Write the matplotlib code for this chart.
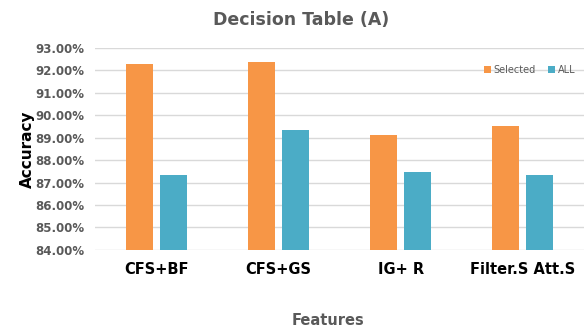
import numpy as np
import matplotlib.pyplot as plt
from matplotlib.ticker import FuncFormatter

features = ['CFS+BF', 'CFS+GS', 'IG+ R', 'Filter.S Att.S']
selected = [92.29, 92.38, 89.13, 89.53]
all_feats = [87.34, 89.33, 87.48, 87.35]

plt.rcParams['font.family'] = ['DejaVu Sans']

fig = plt.figure(figsize=(5.85, 3.28), dpi=100)
ax = fig.add_axes([0.163, 0.238, 0.835, 0.616])

x = np.arange(len(features))
w = 0.22
ax.bar(x - 0.14, np.array(selected) - 84, w, bottom=84, color='#F79646', label='Selected', zorder=3)
ax.bar(x + 0.14, np.array(all_feats) - 84, w, bottom=84, color='#4BACC6', label='ALL', zorder=3)

ax.set_ylim(84, 93)
ax.set_yticks(np.arange(84, 93.1, 1))
ax.yaxis.set_major_formatter(FuncFormatter(lambda v, _: f'{v:.2f}%'))
ax.set_xlim(-0.5, len(features) - 0.5)
ax.set_xticks(x)
ax.set_xticklabels(features, fontsize=10.5, fontweight='bold', color='black')
ax.tick_params(axis='x', length=0, pad=9)
ax.tick_params(axis='y', length=0, labelsize=8.5, labelcolor='#595959', pad=8)
for lbl in ax.get_yticklabels():
    lbl.set_fontweight('bold')

ax.grid(axis='y', color='#D9D9D9', linewidth=1, zorder=0)
for s in ax.spines.values():
    s.set_visible(False)

ax.set_ylabel('Accuracy', fontsize=11, fontweight='bold', color='black', labelpad=0)
fig.text(0.56, 0.01, 'Features', ha='center', fontsize=10.5, fontweight='bold', color='#595959')
fig.text(0.515, 0.925, 'Decision Table (A)', ha='center', fontsize=12.5, fontweight='bold', color='#595959')

ax.legend(loc='upper right', bbox_to_anchor=(1.0, 0.96), ncol=2, frameon=False,
          fontsize=7, labelcolor='#595959', handlelength=0.7, handleheight=0.7,
          columnspacing=1.2, handletextpad=0.3)

fig.savefig('out.png', dpi=100)
